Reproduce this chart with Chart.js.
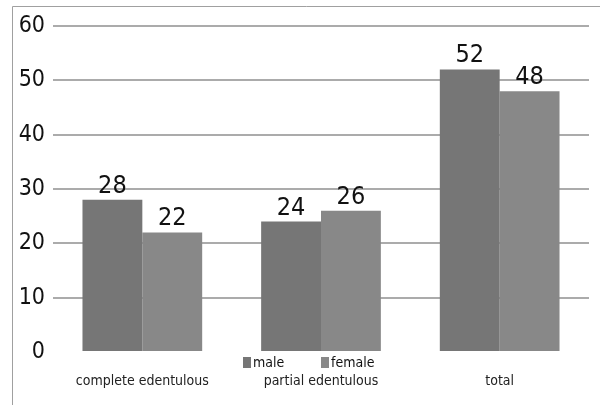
<!DOCTYPE html>
<html>
<head>
<meta charset="utf-8">
<script src="https://cdn.jsdelivr.net/npm/chart.js@4/dist/chart.umd.min.js"></script>
<style>
    body { margin: 0; background: #fff; }
    #wrap { width: 600px; height: 405px; position: relative; }
</style>
</head>
<body>
<div id="wrap"><canvas id="chart"></canvas></div>
<script>
const categories = ['complete edentulous', 'partial edentulous', 'total'];
const maleValues = [28, 24, 52];
const femaleValues = [22, 26, 48];
const seriesNames = ['male', 'female'];
const yMax = 60;
const yStep = 10;

const FONT = '"DejaVu Sans Condensed", "Liberation Sans Narrow", sans-serif';

// outer frame (left + top lines only)
const framePlugin = {
    id: 'frame',
    beforeDraw(chart) {
        const ctx = chart.ctx;
        ctx.save();
        ctx.strokeStyle = '#a0a0a0';
        ctx.lineWidth = 1;
        ctx.beginPath();
        ctx.moveTo(12.5, 405);
        ctx.lineTo(12.5, 6.5);
        ctx.lineTo(600, 6.5);
        ctx.stroke();
        ctx.restore();
    }
};

// numbers above the bars
const valueLabels = {
    id: 'valueLabels',
    afterDatasetsDraw(chart) {
        const ctx = chart.ctx;
        ctx.save();
        ctx.font = '25px ' + FONT;
        ctx.fillStyle = '#111';
        ctx.textAlign = 'center';
        ctx.textBaseline = 'alphabetic';
        chart.data.datasets.forEach((ds, i) => {
            chart.getDatasetMeta(i).data.forEach((bar, j) => {
                ctx.fillText(ds.data[j], bar.x, bar.y - 7);
            });
        });
        ctx.restore();
    }
};

// legend sitting on top of the category labels, like the original
const legendX = [243, 321];
const overlayLegend = {
    id: 'overlayLegend',
    afterDraw(chart) {
        const ctx = chart.ctx;
        ctx.save();
        ctx.font = '14px ' + FONT;
        ctx.textBaseline = 'middle';
        ctx.textAlign = 'left';
        const y = 363;
        chart.data.datasets.forEach((ds, i) => {
            const x = legendX[i];
            ctx.fillStyle = ds.backgroundColor;
            ctx.fillRect(x, y - 6, 8, 11);
            ctx.fillStyle = '#111';
            ctx.fillText(ds.label, x + 10, y);
        });
        ctx.restore();
    }
};

new Chart(document.getElementById('chart'), {
    type: 'bar',
    data: {
        labels: categories,
        datasets: [
            { label: seriesNames[0], data: maleValues, backgroundColor: '#767676' },
            { label: seriesNames[1], data: femaleValues, backgroundColor: '#888888' }
        ]
    },
    options: {
        responsive: true,
        maintainAspectRatio: false,
        animation: false,
        layout: { padding: { left: 12, top: 26, right: 11, bottom: 0 } },
        datasets: { bar: { categoryPercentage: 0.67, barPercentage: 1 } },
        plugins: {
            legend: { display: false },
            tooltip: { enabled: false }
        },
        scales: {
            x: {
                grid: { display: false },
                border: { display: false },
                ticks: { color: '#222', font: { family: FONT, size: 14 }, padding: 13, maxRotation: 0 },
                afterFit(scale) { scale.height = 53; }
            },
            y: {
                min: 0,
                max: yMax,
                border: { display: false },
                grid: {
                    drawTicks: false,
                    lineWidth: 2,
                    color: c => c.tick && c.tick.value === 0 ? 'rgba(0,0,0,0)' : '#ababab'
                },
                ticks: { stepSize: yStep, color: '#111', font: { family: FONT, size: 23 }, padding: 8 },
                afterFit(scale) { scale.width = 41; }
            }
        }
    },
    plugins: [framePlugin, valueLabels, overlayLegend]
});
</script>
</body>
</html>
